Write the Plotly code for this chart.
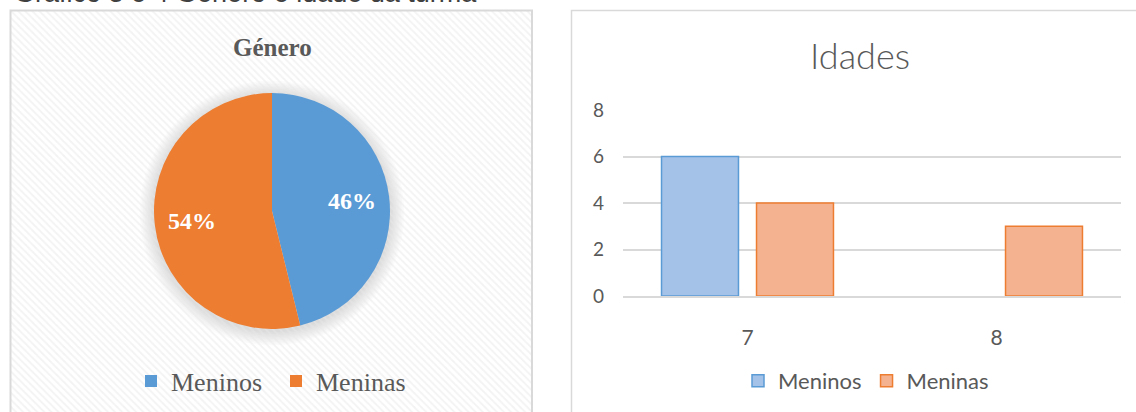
import math
import plotly.graph_objects as go

# ---- data ----
generos = ["Meninos", "Meninas"]
genero_totais = [6, 7]

idades = ["7", "8"]
meninos_por_idade = [6, 0]
meninas_por_idade = [4, 3]
y_ticks = [0, 2, 4, 6, 8]

# ---- canvas helpers ----
W, H = 1136, 412


def px(x):
    return x / W


def py(y):
    return 1 - y / H


BLUE = "#5b9bd5"
ORANGE = "#ed7d31"
TXT = "#595959"
SERIF = "Liberation Serif, Times New Roman, serif"
SANS = "Lato, Open Sans, sans-serif"


def outline_widths(values, w=1.5):
    # empty bars get no outline
    return [w if v else 0 for v in values]


fig = go.Figure()

# hatched background of the left panel
fig.add_trace(go.Bar(
    x=[0], y=[1], width=[1],
    xaxis="x3", yaxis="y3",
    marker=dict(
        color="rgba(0,0,0,0)",
        line=dict(width=0),
        pattern=dict(shape="\\", size=5, solidity=0.38,
                     fgcolor="#e8e8e8", bgcolor="rgba(0,0,0,0)",
                     fillmode="overlay"),
    ),
    hoverinfo="skip", showlegend=False,
))

# pie: gender split (clockwise from 12 o'clock)
cx, cy, r = 272, 211, 118
fig.add_trace(go.Pie(
    labels=generos, values=genero_totais,
    marker=dict(colors=[BLUE, ORANGE], line=dict(width=0)),
    sort=False, direction="clockwise", rotation=0,
    textinfo="none",
    domain=dict(x=[px(cx - r), px(cx + r)], y=[py(cy + r), py(cy - r)]),
    legend="legend", hoverinfo="label+percent",
))

# bars: ages by gender
fig.add_trace(go.Bar(
    x=idades, y=meninos_por_idade, name="Meninos",
    marker=dict(color="#a4c2e7",
                line=dict(color=BLUE, width=outline_widths(meninos_por_idade))),
    xaxis="x", yaxis="y", legend="legend2",
))
fig.add_trace(go.Bar(
    x=idades, y=meninas_por_idade, name="Meninas",
    marker=dict(color="#f5b291",
                line=dict(color=ORANGE, width=outline_widths(meninas_por_idade))),
    xaxis="x", yaxis="y", legend="legend2",
))

shapes = []
# soft shadow around the pie
for i in range(1, 10):
    rr = r + 1.6 * i
    shapes.append(dict(
        type="circle", xref="paper", yref="paper", layer="below",
        x0=px(cx - rr), x1=px(cx + rr), y0=py(cy + rr + 2), y1=py(cy - rr + 2),
        fillcolor="rgba(0,0,0,0.015)", line=dict(width=0),
    ))
# white band behind the pie legend
shapes.append(dict(type="rect", xref="paper", yref="paper", layer="below",
                   x0=px(130), x1=px(416), y0=py(403), y1=py(357),
                   fillcolor="rgba(255,255,255,0.9)", line=dict(width=0)))
# panel borders
shapes.append(dict(type="rect", xref="paper", yref="paper",
                   x0=px(10.5), x1=px(532), y0=py(420), y1=py(10.5),
                   line=dict(color="#d9d9d9", width=2), layer="above"))
shapes.append(dict(type="rect", xref="paper", yref="paper",
                   x0=px(571.5), x1=px(1145), y0=py(420), y1=py(10.5),
                   line=dict(color="#d9d9d9", width=1.5), layer="above"))

annotations = [
    dict(text="<b>Género</b>", x=px(272), y=py(47), xref="paper", yref="paper",
         showarrow=False, font=dict(family=SERIF, size=25, color=TXT),
         xanchor="center", yanchor="middle"),
    dict(text="Idades", x=px(860), y=py(55), xref="paper", yref="paper",
         showarrow=False, font=dict(family=SANS, size=36, color=TXT, weight=300),
         xanchor="center", yanchor="middle"),
    # caption above the panels, mostly above the top edge
    dict(text="Gráfico 3 e 4 Género e idade da turma", x=px(12), y=py(-24),
         xref="paper", yref="paper", showarrow=False,
         font=dict(family="Liberation Sans, Arial, sans-serif", size=27, color="#404040"),
         xanchor="left", yanchor="top"),
]

# percentage labels placed at each slice's mid-angle
total = sum(genero_totais)
start = 0.0
for val in genero_totais:
    frac = val / total
    mid = (start + frac / 2) * 2 * math.pi
    start += frac
    lx = cx + 0.68 * r * math.sin(mid)
    ly = cy - 0.68 * r * math.cos(mid)
    annotations.append(dict(
        text=f"<b>{round(frac * 100)}%</b>", x=px(lx), y=py(ly),
        xref="paper", yref="paper", showarrow=False,
        font=dict(family=SERIF, size=24, color="white"),
        xanchor="center", yanchor="middle"))

fig.update_layout(
    width=W, height=H,
    margin=dict(l=0, r=0, t=0, b=0, autoexpand=False),
    paper_bgcolor="white", plot_bgcolor="rgba(0,0,0,0)",
    barmode="group", bargap=0.237, bargroupgap=0.19,
    shapes=shapes, annotations=annotations,
    xaxis=dict(domain=[px(623), px(1121)], type="category",
               categoryorder="array", categoryarray=idades,
               showgrid=False, showline=True, linecolor="#d9d9d9", linewidth=2,
               layer="above traces",
               ticks="", ticklabelstandoff=22,
               tickfont=dict(family=SANS, size=21, color=TXT), fixedrange=True),
    yaxis=dict(domain=[py(296), py(110)], range=[0, 8], tickvals=y_ticks,
               showgrid=True, gridcolor="#d9d9d9", gridwidth=1.5,
               zeroline=False, showline=False, ticks="", ticklabelstandoff=18,
               tickfont=dict(family=SANS, size=19, color=TXT), fixedrange=True),
    xaxis3=dict(domain=[px(11), px(531)], range=[-0.5, 0.5], visible=False,
                anchor="y3", fixedrange=True),
    yaxis3=dict(domain=[0, py(11)], range=[0, 1], visible=False,
                anchor="x3", fixedrange=True),
    legend=dict(orientation="h", x=px(276), y=py(381), xanchor="center", yanchor="middle",
                bgcolor="rgba(0,0,0,0)", borderwidth=0,
                font=dict(family=SERIF, size=26, color=TXT),
                itemwidth=30, entrywidthmode="pixels", entrywidth=100,
                traceorder="normal"),
    legend2=dict(orientation="h", x=px(866), y=py(381), xanchor="center", yanchor="middle",
                 bgcolor="rgba(0,0,0,0)", borderwidth=0,
                 font=dict(family=SANS, size=22, color=TXT),
                 itemwidth=30, traceorder="normal"),
)

fig.write_html("out.html")
